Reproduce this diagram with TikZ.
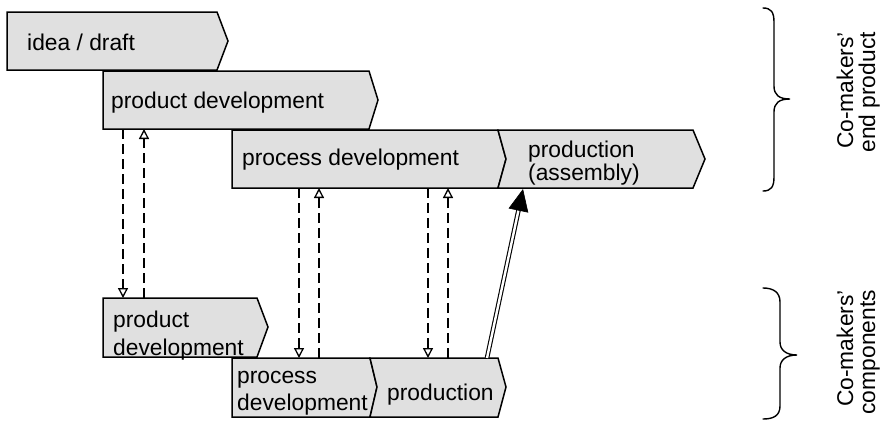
\documentclass[tikz,border=0pt]{standalone}
\usepackage{fontspec}
\setmainfont{Liberation Sans}
\usetikzlibrary{arrows.meta,calc}
\definecolor{boxfill}{RGB}{224,224,224}
\begin{document}
\begin{tikzpicture}[x=1pt,y=-1pt,
  chev/.style={draw=black, fill=boxfill, line width=1.5pt, line join=miter},
  lbl/.style={inner sep=0pt, anchor=base west, align=left, font=\fontsize{22.8}{20}\selectfont},
  rlbl/.style={inner sep=0pt, anchor=base east, rotate=90, font=\fontsize{22.8}{26}\selectfont},
  dasharrow/.style={line width=1.7pt, dash pattern=on 10pt off 5pt,
    -{Triangle[open, length=10pt, width=10pt, line width=1.3pt]}},
  bracestyle/.style={line width=1.4pt, line cap=round}
]
\useasboundingbox (0,0) rectangle (886,421);

% end product chevrons
\draw[chev] (7,12) -- (217,12) -- (228,41) -- (217,70) -- (7,70) -- cycle;
\draw[chev] (103,71) -- (369,71) -- (378,100) -- (369,129) -- (103,129) -- cycle;
\draw[chev] (232,130) -- (498,130) -- (506,159) -- (498,188) -- (232,188) -- cycle;
\draw[chev] (498,130) -- (693,130) -- (705,159) -- (693,188) -- (498,188) -- (506,159) -- cycle;

% component chevrons
\draw[chev] (103,298) -- (257,298) -- (268,327) -- (257,357) -- (103,357) -- cycle;
\draw[chev] (232,358) -- (370,358) -- (377,387) -- (370,417) -- (232,417) -- cycle;
\draw[chev] (370,358) -- (498,358) -- (506,387) -- (498,417) -- (370,417) -- (377,387) -- cycle;

% labels (multi-line nodes are anchored at the baseline of their last line)
\node[lbl] (idea) at (27,50) {idea / draft};
\node[lbl] (pd) at (111,108) {product development};
\node[lbl] (prd) at (242,165) {process development};
\node[lbl, font=\fontsize{22.8}{20}\selectfont] (asm) at (528,180) {production\\(assembly)};
\node[lbl, font=\fontsize{22.8}{28}\selectfont] (cpd) at (113,355) {product\\development};
\node[lbl, font=\fontsize{22.8}{27}\selectfont] (cprd) at (237,410) {process\\development};
\node[lbl] (cprod) at (387,400) {production};

% connector end points
\coordinate (a1) at (123,129); \coordinate (a2) at (123,298);
\coordinate (b1) at (144,298); \coordinate (b2) at (144,129);
\coordinate (c1) at (299,188); \coordinate (c2) at (299,358);
\coordinate (d1) at (319,358); \coordinate (d2) at (319,188);
\coordinate (e1) at (428,188); \coordinate (e2) at (428,358);
\coordinate (f1) at (448,358); \coordinate (f2) at (448,188);
\coordinate (g1) at (487,358); \coordinate (g2) at (523,189);

\draw[dasharrow] (a1) -- (a2);
\draw[dasharrow] (b1) -- (b2);
\draw[dasharrow] (c1) -- (c2);
\draw[dasharrow] (d1) -- (d2);
\draw[dasharrow] (e1) -- (e2);
\draw[dasharrow] (f1) -- (f2);

% double arrow
\draw[double=white, double distance=2.4pt, line width=1.1pt, shorten >=18pt] (g1) -- (g2);
\draw[line width=0.6pt, -{Triangle[length=22pt,width=20pt]}] ($(g2)!22pt!(g1)$) -- (g2);

% braces
\draw[bracestyle] (763,8) .. controls (771,8) and (774,12) .. (774,22) -- (774,86)
  .. controls (774,95) and (779,99) .. (790,99)
  .. controls (779,99) and (774,103) .. (774,112) -- (774,177)
  .. controls (774,187) and (771,191) .. (763,191);
\draw[bracestyle] (763,288) .. controls (773,288) and (780,292) .. (780,302) -- (780,342)
  .. controls (780,350) and (786,355) .. (797,355)
  .. controls (786,355) and (780,360) .. (780,368) -- (780,406)
  .. controls (780,416) and (773,419) .. (763,419);

% side labels
\node[rlbl] (cm1) at (853,32) {Co-makers’};
\node[rlbl] (ep) at (875,32) {end product};
\node[rlbl] (cm2) at (853,290) {Co-makers’};
\node[rlbl] (cp) at (875,290) {components};
\end{tikzpicture}
\end{document}
